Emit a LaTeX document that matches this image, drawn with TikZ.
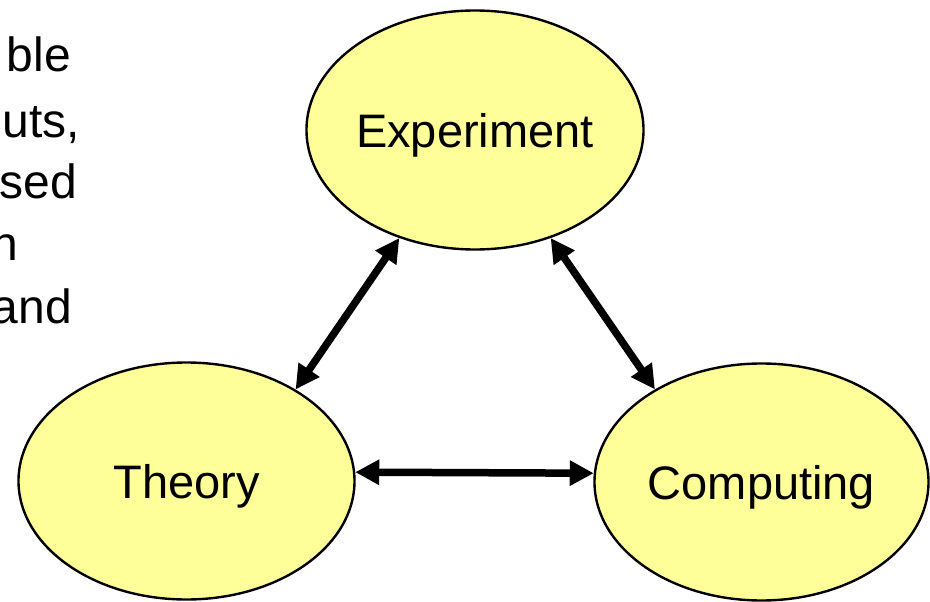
\documentclass[tikz,border=0pt]{standalone}
\usepackage{fontspec}
\setmainfont{Liberation Sans}
\usetikzlibrary{shapes.geometric,arrows.meta}
\definecolor{fillyellow}{HTML}{FFFF99}
\begin{document}
\begin{tikzpicture}[x=1pt,y=-1pt,
  bubble/.style={ellipse,draw=black,line width=2.4pt,fill=fillyellow,inner sep=0pt,
    font=\fontsize{47}{56}\selectfont,text height=34pt,text depth=0pt},
  frag/.style={anchor=base east,inner sep=0pt,font=\fontsize{48}{56}\selectfont},
  link/.style={line width=7.5pt,{Triangle[length=24pt,width=24pt]}-{Triangle[length=24pt,width=24pt]}}]
\useasboundingbox (0,0) rectangle (930,602);
\node[bubble,minimum width=337pt,minimum height=239pt] (E) at (475,130) {Experiment};
\node[bubble,minimum width=336pt,minimum height=237pt] (T) at (186.5,481) {Theory};
\node[bubble,minimum width=334pt,minimum height=237pt] (C) at (761.5,482) {Computing};
\node[frag] (l1) at (71,72) {ble};
\node[frag] (l2) at (80,137) {uts,};
\node[frag] (l3) at (77,198) {sed};
\node[frag] (l4) at (18,260) {n};
\node[frag] (l5) at (72,323) {and};
\draw[link] (E.235) -- (T.40);
\draw[link] (E.305) -- (C.139.6);
\draw[link] (T.3) -- (C.177);
\end{tikzpicture}
\end{document}
